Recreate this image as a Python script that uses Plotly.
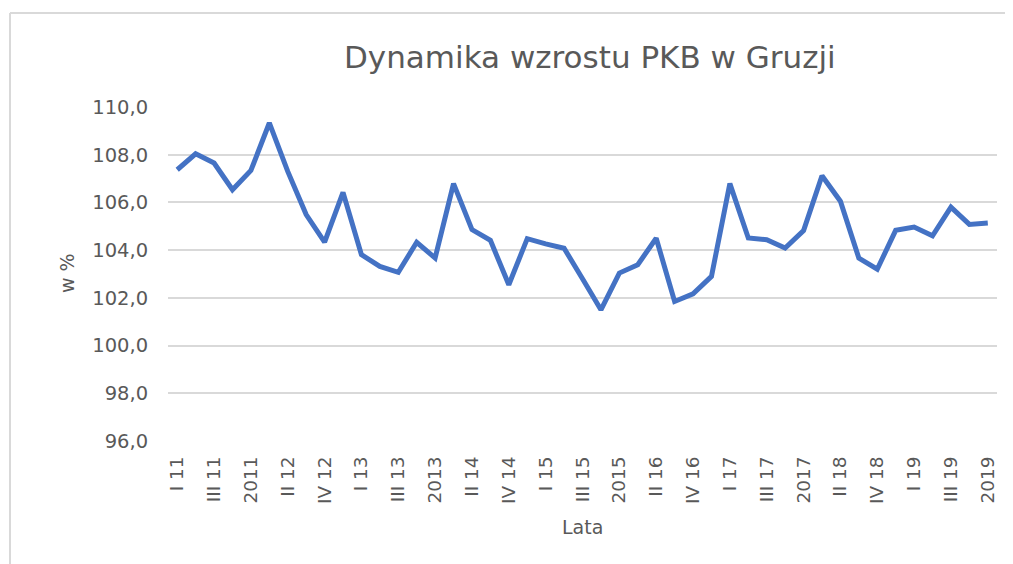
import plotly.graph_objects as go

years = list(range(2011, 2020))
categories = []
for y in years:
    yy = str(y)[2:]
    categories += [f"I {yy}", f"II {yy}", f"III {yy}", f"IV {yy}", str(y)]

values = [
    107.37, 108.04, 107.65, 106.53, 107.34,   # 2011
    109.33, 107.30, 105.49, 104.34, 106.42,   # 2012
    103.81, 103.32, 103.07, 104.33, 103.67,   # 2013
    106.79, 104.86, 104.41, 102.55, 104.48,   # 2014
    104.26, 104.08, 102.80, 101.50, 103.04,   # 2015
    103.39, 104.50, 101.85, 102.17, 102.90,   # 2016
    106.79, 104.51, 104.44, 104.09, 104.82,   # 2017
    107.12, 106.05, 103.67, 103.20, 104.83,   # 2018
    104.97, 104.60, 105.80, 105.08, 105.14,   # 2019
]

tick_labels = categories[::2]
y_ticks = [96, 98, 100, 102, 104, 106, 108, 110]

title_text = "Dynamika wzrostu PKB w Gruzji"
x_title = "Lata"
y_title = "w %"

FONT = "DejaVu Sans"
GREY = "#595959"
GRID = "#D9D9D9"

# page body has an 8px margin; figure is drawn at offset (8, 8)
OFF = 8
W, H = 1013 - OFF, 564 - OFF
PL, PR, PT, PB = 168, 997, 107, 441  # plot area in window pixels

fig = go.Figure()
fig.add_trace(go.Scatter(
    x=categories, y=values, mode="lines",
    line=dict(color="#4472C4", width=5),
    hoverinfo="x+y",
))

fig.update_layout(
    width=W, height=H,
    margin=dict(l=PL - OFF, r=W - (PR - OFF), t=PT - OFF, b=H - (PB - OFF), pad=0),
    paper_bgcolor="white", plot_bgcolor="white",
    separators=", ",
    showlegend=False,
    font=dict(family=FONT, color=GREY),
)

fig.update_xaxes(
    type="category",
    categoryorder="array", categoryarray=categories,
    range=[-0.5, len(categories) - 0.5],
    tickmode="array", tickvals=tick_labels, ticktext=tick_labels,
    tickangle=-90,
    tickfont=dict(family=FONT, size=18.5, color=GREY),
    ticks="outside", ticklen=7, tickcolor="rgba(0,0,0,0)",
    showgrid=False, zeroline=False,
    showline=False,
)
fig.update_yaxes(
    range=[96, 110],
    tickmode="array", tickvals=y_ticks,
    tickformat=".1f",
    tickfont=dict(family=FONT, size=19.5, color=GREY),
    ticks="outside", ticklen=15, tickcolor="rgba(0,0,0,0)",
    showgrid=True, gridcolor=GRID, gridwidth=1.5,
    zeroline=False, showline=False,
)

def px_x(px):
    return (px - PL) / float(PR - PL)

def px_y(py):
    return (PB - py) / float(PB - PT)

annotations = [
    dict(text=title_text, x=px_x(590), y=px_y(57), xref="paper", yref="paper",
         showarrow=False, xanchor="center", yanchor="middle",
         font=dict(family=FONT, size=31, color=GREY)),
    dict(text=x_title, x=px_x(582), y=px_y(527), xref="paper", yref="paper",
         showarrow=False, xanchor="center", yanchor="middle",
         font=dict(family=FONT, size=19, color=GREY)),
    dict(text=y_title, x=px_x(67), y=px_y(273), xref="paper", yref="paper",
         showarrow=False, xanchor="center", yanchor="middle", textangle=-90,
         font=dict(family=FONT, size=19, color=GREY)),
]
fig.update_layout(annotations=annotations)

shapes = [
    dict(type="line", xref="paper", yref="paper",
         x0=px_x(10), x1=px_x(10), y0=px_y(13), y1=px_y(580),
         line=dict(color=GRID, width=2)),
    dict(type="line", xref="paper", yref="paper",
         x0=px_x(10), x1=px_x(1030), y0=px_y(13), y1=px_y(13),
         line=dict(color=GRID, width=2)),
]
fig.update_layout(shapes=shapes)

fig.write_html("out.html")
